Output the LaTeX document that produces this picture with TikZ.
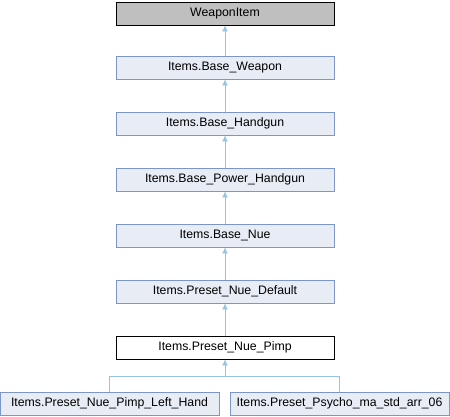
\documentclass[tikz,border=0pt]{standalone}
\usepackage{fontspec}
\setmainfont{Liberation Sans}
\usetikzlibrary{arrows.meta}
\definecolor{edgec}{RGB}{150,196,226}
\definecolor{boxfill}{RGB}{232,236,245}
\definecolor{boxdraw}{RGB}{125,150,200}
\definecolor{topfill}{RGB}{191,191,191}
\tikzset{
  cls/.style={draw=boxdraw, fill=boxfill, line width=0.9pt, minimum width=218pt, minimum height=23pt, inner sep=0pt, font=\fontsize{12.3}{14}\selectfont},
  topcls/.style={cls, draw=black, fill=topfill},
  curcls/.style={cls, draw=black, fill=white},
  leaf/.style={cls, minimum width=219pt},
  inh/.style={draw=edgec, line width=0.9pt, {Latex[length=6pt,width=6pt]}-}
}
\begin{document}
\begin{tikzpicture}[x=1pt,y=-1pt]
\useasboundingbox (0,0) rectangle (450,416);
\node[topcls] (w) at (225,13.5) {WeaponItem};
\node[cls] (bw) at (225,67.5) {Items.Base\_Weapon};
\node[cls] (bh) at (225,123.5) {Items.Base\_Handgun};
\node[cls] (bph) at (225,179.5) {Items.Base\_Power\_Handgun};
\node[cls] (bn) at (225,235.5) {Items.Base\_Nue};
\node[cls] (pnd) at (225,291.5) {Items.Preset\_Nue\_Default};
\node[curcls] (pnp) at (225,347.5) {Items.Preset\_Nue\_Pimp};
\node[leaf] (lh) at (109.5,403.5) {Items.Preset\_Nue\_Pimp\_Left\_Hand};
\node[leaf] (ps) at (339.5,403.5) {Items.Preset\_Psycho\_ma\_std\_arr\_06};
\draw[inh] (w) -- (bw);
\draw[inh] (bw) -- (bh);
\draw[inh] (bh) -- (bph);
\draw[inh] (bph) -- (bn);
\draw[inh] (bn) -- (pnd);
\draw[inh] (pnd) -- (pnp);
\coordinate (j) at (225,376);
\draw[inh] (pnp) -- (j);
\draw[draw=edgec, line width=0.9pt] (j) -| (lh.north);
\draw[draw=edgec, line width=0.9pt] (j) -| (ps.north);
\end{tikzpicture}
\end{document}
